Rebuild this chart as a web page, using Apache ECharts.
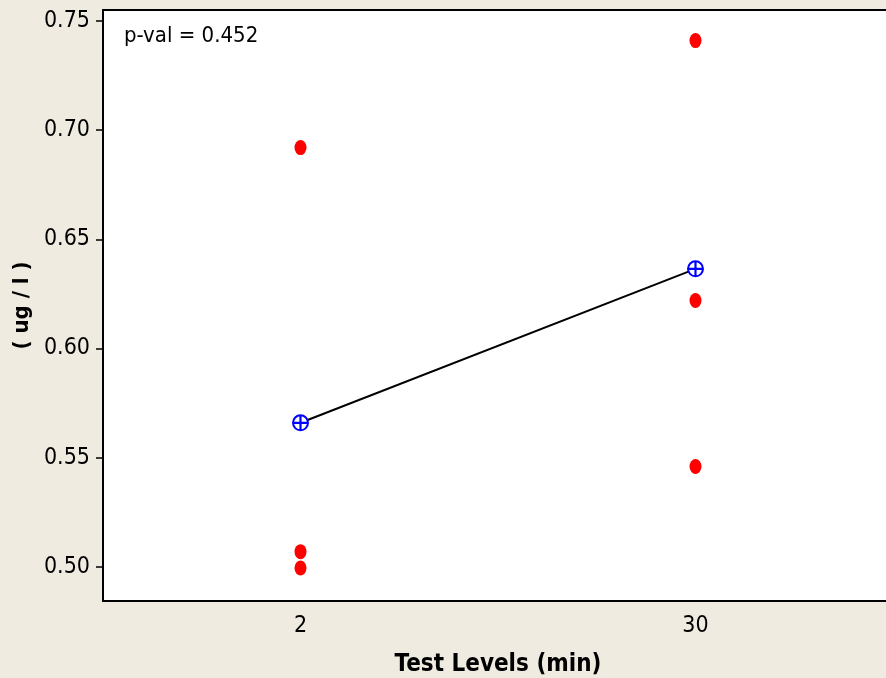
<!DOCTYPE html>
<html>
<head>
<meta charset="utf-8">
<script src="https://cdn.jsdelivr.net/npm/echarts@6/dist/echarts.min.js"></script>
<style>
  html, body { margin: 0; padding: 0; background: #efebe1; }
  #chart { width: 886px; height: 678px; }
</style>
</head>
<body>
<div id="chart"></div>
<script>
// Test levels on the x axis
const levels = ['2', '30'];
// Individual measurements (ug/l) at each level
const level2Values = [0.692, 0.507, 0.4995];
const level30Values = [0.741, 0.622, 0.546];
// Group means joined by the line
const meanValues = [0.566, 0.6365];
// Y axis tick values
const yTicks = [0.50, 0.55, 0.60, 0.65, 0.70, 0.75];
const pValueText = 'p-val = 0.452';

const FONT = '"DejaVu Sans Condensed", "DejaVu Sans", sans-serif';

const points = [];
level2Values.forEach(v => points.push([0, v]));
level30Values.forEach(v => points.push([1, v]));

const chart = echarts.init(document.getElementById('chart'), null, { renderer: 'canvas' });

chart.setOption({
  backgroundColor: '#efebe1',
  animation: false,
  grid: {
    left: 103, top: 10, width: 790, height: 591,
    outerBoundsMode: 'none',
    containLabel: false,
    show: true, backgroundColor: '#ffffff',
    borderColor: '#000000', borderWidth: 2
  },
  xAxis: {
    type: 'category',
    data: levels,
    boundaryGap: true,
    name: 'Test Levels (min)',
    nameLocation: 'middle',
    nameGap: 52,
    nameTextStyle: { fontFamily: FONT, fontWeight: 'bold', fontSize: 24, color: '#000' },
    axisLine: { lineStyle: { color: '#000', width: 2 } },
    axisTick: { alignWithLabel: true, length: 9, lineStyle: { color: '#000', width: 1.5 } },
    axisLabel: { fontFamily: FONT, fontSize: 23, color: '#000', margin: 14 },
    splitLine: { show: false }
  },
  yAxis: {
    type: 'value',
    min: 0.4844,
    max: 0.755,
    name: '( ug / l )',
    nameLocation: 'middle',
    nameGap: 70,
    nameRotate: 90,
    nameTextStyle: { fontFamily: FONT, fontWeight: 'bold', fontSize: 22, color: '#000' },
    axisLine: { show: true, lineStyle: { color: '#000', width: 2 } },
    axisTick: { show: true, length: 7, customValues: yTicks, lineStyle: { color: '#000', width: 1.5 } },
    axisLabel: {
      fontFamily: FONT, fontSize: 23, color: '#000', margin: 13,
      customValues: yTicks,
      formatter: v => v.toFixed(2)
    },
    splitLine: { show: false }
  },
  graphic: [{
    type: 'text',
    left: 124, top: 25,
    style: { text: pValueText, font: '22px ' + FONT, fill: '#000' }
  }],
  series: [
    {
      type: 'scatter',
      data: points,
      symbol: 'circle',
      symbolSize: [12, 15],
      itemStyle: { color: '#ff0000', opacity: 1 },
      z: 3
    },
    {
      type: 'line',
      data: meanValues.map((v, i) => [i, v]),
      lineStyle: { color: '#000', width: 2 },
      symbol: 'emptyCircle',
      symbolSize: 15,
      showSymbol: true,
      itemStyle: { color: '#0000ff', borderColor: '#0000ff', borderWidth: 2.2 },
      z: 4
    },
    {
      type: 'scatter',
      data: meanValues.map((v, i) => [i, v]),
      symbol: 'path://M5,0L5,10M0,5L10,5',
      symbolSize: 15,
      itemStyle: { color: 'none', borderColor: '#0000ff', borderWidth: 2.2, opacity: 1 },
      z: 5
    }
  ]
});
</script>
</body>
</html>
